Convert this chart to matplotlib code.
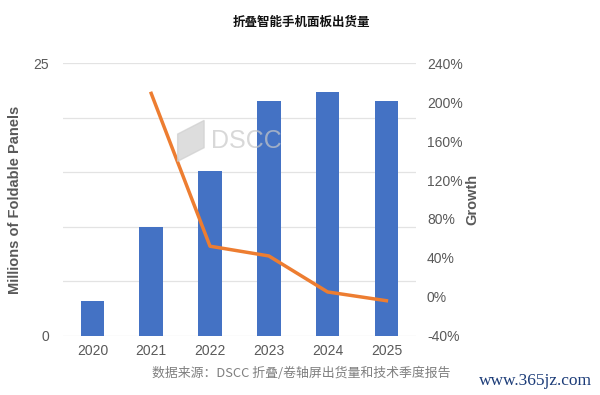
import matplotlib
matplotlib.use("Agg")
import matplotlib.pyplot as plt
from matplotlib.ticker import FixedLocator, FuncFormatter
from matplotlib.patches import Polygon

plt.rcParams['font.family'] = ['Liberation Sans', 'Noto Sans CJK SC', 'DejaVu Sans']

years = ["2020", "2021", "2022", "2023", "2024", "2025"]
panels = [3.2, 10.0, 15.1, 21.5, 22.4, 21.5]
growth = [None, 209, 52, 42, 5, -4]
left_ticks = [0, 25]
right_ticks = [-40, 0, 40, 80, 120, 160, 200, 240]

title = "折叠智能手机面板出货量"
source = "数据来源：DSCC 折叠/卷轴屏出货量和技术季度报告"
site = "www.365jz.com"

grey = "#595959"
fig = plt.figure(figsize=(6.0, 3.95), dpi=100)
ax = fig.add_axes([0.105, 0.150, 0.588, 0.690])
x = list(range(len(years)))
ax.bar(x, panels, width=0.4, color="#4472C4", zorder=2)
ax.set_xlim(-0.5, len(years) - 0.5)
ax.set_ylim(0, 25)
ax.yaxis.set_major_locator(FixedLocator([0, 5, 10, 15, 20, 25]))
ax.yaxis.set_major_formatter(FuncFormatter(lambda v, p: f"{v:g}" if v in left_ticks else ""))
ax.grid(axis="y", color="#e3e3e3", linewidth=0.9, zorder=0)
ax.set_xticks(x)
ax.set_xticklabels(years)
for s in ax.spines.values():
    s.set_visible(False)
ax.tick_params(axis="both", length=0, labelsize=10, labelcolor=grey)
ax.tick_params(axis="x", pad=6)
ax.tick_params(axis="y", pad=10)
ax.set_ylabel("Millions of Foldable Panels", fontsize=10.5, fontweight="bold", color=grey, labelpad=8)

ax2 = ax.twinx()
gx = [i for i, g in zip(x, growth) if g is not None]
gy = [g for g in growth if g is not None]
ax2.plot(gx, gy, color="#ED7D31", linewidth=2.5, zorder=3)
ax2.set_ylim(-40, 240)
ax2.set_yticks(right_ticks)
ax2.set_yticklabels([f"{t}%" for t in right_ticks])
for s in ax2.spines.values():
    s.set_visible(False)
ax2.tick_params(axis="y", length=0, labelsize=10, labelcolor=grey, pad=8)
ax2.set_ylabel("Growth", fontsize=10.5, fontweight="bold", color=grey, labelpad=2)

# watermark (drawn on top, semi-transparent)
ax2.text(0.42, 0.715, "DSCC", transform=ax.transAxes, fontsize=18, color="#c8c8c8",
         alpha=0.7, ha="left", va="center", zorder=5)
ax2.add_patch(Polygon([[0.325, 0.64], [0.40, 0.69], [0.40, 0.79], [0.325, 0.74]],
                      closed=True, transform=ax.transAxes, color="#cfcfcf", alpha=0.7, zorder=5))

fig.text(0.503, 0.944, title, ha="center", va="center", fontsize=9, fontweight="bold",
         family=['Noto Sans CJK SC', 'DejaVu Sans'], color="#111111")
fig.text(0.502, 0.054, source, ha="center", va="center", fontsize=9.3,
         family=['Noto Sans CJK SC', 'DejaVu Sans'], color="#7f7f7f")
fig.text(0.892, 0.036, site, ha="center", va="center", fontsize=12.5,
         family=['Liberation Serif', 'DejaVu Serif'], color="#1c3c78")

fig.savefig("out.png", dpi=100, facecolor="white")
